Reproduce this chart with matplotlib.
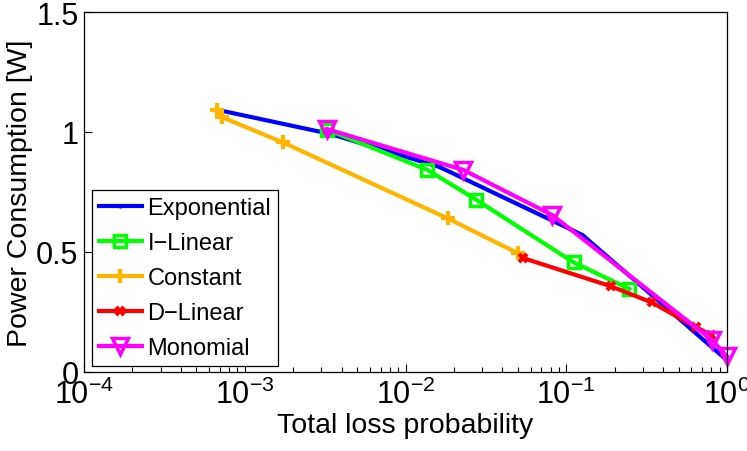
import math
import matplotlib
matplotlib.use("Agg")
import matplotlib.pyplot as plt
from matplotlib.ticker import LogLocator, FixedLocator, NullFormatter

plt.rcParams['font.family'] = ['Liberation Sans', 'DejaVu Sans']
plt.rcParams['mathtext.fontset'] = 'custom'
plt.rcParams['mathtext.rm'] = 'Liberation Sans'
plt.rcParams['mathtext.it'] = 'Liberation Sans'
plt.rcParams['mathtext.default'] = 'regular'

# Data
exp_x = [6.8e-4, 3.4e-3, 0.0163, 0.126, 0.98]
exp_y = [1.092, 0.992, 0.854, 0.571, 0.054]

ilin_x = [3.25e-3, 0.0137, 0.0275, 0.111, 0.247]
ilin_y = [1.010, 0.842, 0.718, 0.457, 0.346]

const_x = [6.70e-4, 7.26e-4, 1.72e-3, 0.0183, 0.050]
const_y = [1.093, 1.061, 0.957, 0.640, 0.495]

dlin_x = [0.0537, 0.19, 0.34, 0.64, 0.80]
dlin_y = [0.475, 0.357, 0.290, 0.187, 0.154]

mono_x = [3.25e-3, 0.0229, 0.0818, 0.807, 1.0]
mono_y = [1.012, 0.842, 0.654, 0.133, 0.065]

labels = ["Exponential", "I\u2212Linear", "Constant", "D\u2212Linear", "Monomial"]
xticks = [1e-4, 1e-3, 1e-2, 1e-1, 1e0]
yticks = [0, 0.5, 1, 1.5]
ytick_labels = ["0", "0.5", "1", "1.5"]

fig = plt.figure(figsize=(7.47, 4.52), dpi=100)
ax = fig.add_axes([84/747, 1-373/452, 643/747, 360/452])

lw = 3.0
ax.plot(exp_x, exp_y, color=(0, 0, 1), lw=lw, marker='.', ms=4, label=labels[0], clip_on=False)
ax.plot(ilin_x, ilin_y, color=(0, 1, 0), lw=lw, marker='s', ms=8, mfc='none', mew=2.5, label=labels[1], clip_on=False)
ax.plot(const_x, const_y, color=(1, 0.71, 0), lw=lw, marker='+', ms=10, mew=3, label=labels[2], clip_on=False)
ax.plot(dlin_x, dlin_y, color=(1, 0, 0), lw=lw, marker='x', ms=6, mew=3, label=labels[3], clip_on=False)
ax.plot(mono_x, mono_y, color=(1, 0, 1), lw=lw, marker='v', ms=12, mfc='none', mew=2.5, label=labels[4], clip_on=False)

ax.set_xscale('log')
ax.set_xlim(1e-4, 1e0)
ax.set_ylim(0, 1.5)
ax.xaxis.set_major_locator(FixedLocator(xticks))
ax.set_xticklabels([r'$10^{%d}$' % int(round(math.log10(v))) for v in xticks])
ax.xaxis.set_minor_locator(LogLocator(base=10, subs=range(2, 10)))
ax.xaxis.set_minor_formatter(NullFormatter())
ax.set_yticks(yticks)
ax.set_yticklabels(ytick_labels)

ax.tick_params(axis='both', which='major', direction='in', length=6, width=0.8, labelsize=22)
ax.tick_params(axis='y', which='major', pad=4)
ax.tick_params(axis='x', which='major', pad=5)
ax.tick_params(axis='both', which='minor', direction='in', length=3.5, width=0.8)
for s in ax.spines.values():
    s.set_linewidth(0.9)

ax.set_xlabel('Total loss probability', fontsize=20.5, labelpad=1)
ax.set_ylabel('Power Consumption [W]', fontsize=20.5, labelpad=2)

leg = ax.legend(loc='lower left', bbox_to_anchor=(0.0124, 0.0167), fontsize=17,
                frameon=True, fancybox=False, edgecolor='black', framealpha=1,
                handlelength=1.8, handletextpad=0.25, labelspacing=0.55,
                borderpad=0.3, borderaxespad=0)
leg.get_frame().set_linewidth(0.9)

fig.savefig('out.png', dpi=100)
